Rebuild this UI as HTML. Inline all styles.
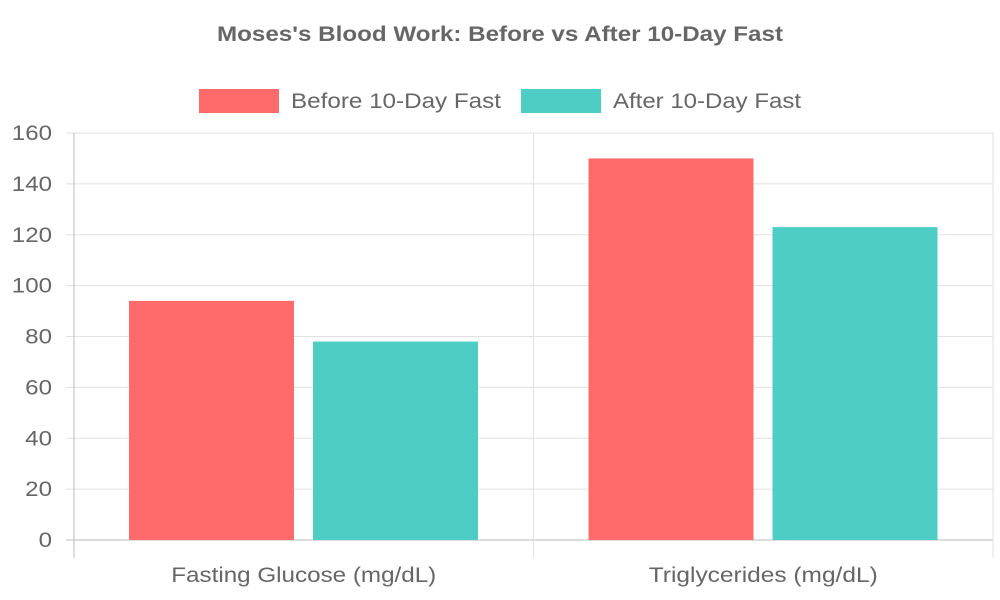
<!DOCTYPE html>
<html><head><meta charset="utf-8"><style>
body{margin:0;background:#fff;}
svg{display:block;font-family:"Liberation Sans",sans-serif;}
</style></head><body>
<svg id="chart" width="1000" height="600">
<text x="500" y="41" text-anchor="middle" font-size="21" font-weight="bold" fill="#666" textLength="566" lengthAdjust="spacingAndGlyphs">Moses's Blood Work: Before vs After 10-Day Fast</text>
<g>
<g><rect x="199" y="89" width="80" height="24" fill="#ff6b6b"/><text x="291" y="108" font-size="21" fill="#666" textLength="210" lengthAdjust="spacingAndGlyphs">Before 10-Day Fast</text></g>
<g><rect x="521" y="89" width="80" height="24" fill="#4ecdc4"/><text x="613" y="108" font-size="21" fill="#666" textLength="188" lengthAdjust="spacingAndGlyphs">After 10-Day Fast</text></g>
</g>
<g id="grid"></g><g id="bars"></g><g id="labels"></g>
</svg>
<script>
const categories=["Fasting Glucose (mg/dL)","Triglycerides (mg/dL)"];
const beforeValues=[94,150];
const afterValues=[78,123];
const yTicks=[0,20,40,60,80,100,120,140,160];
const NS="http://www.w3.org/2000/svg";
const L=74,R=993,T=133,B=540;
const y=v=>B-(v/160)*(B-T);
const cw=(R-L)/categories.length;
function mk(tag,attrs,parent,text){const e=document.createElementNS(NS,tag);for(const k in attrs)e.setAttribute(k,attrs[k]);if(text!==undefined)e.textContent=text;document.getElementById(parent).appendChild(e);return e;}
yTicks.forEach(t=>{
 const l=mk('line',{x1:66,x2:R,y1:y(t),y2:y(t),stroke:t===0?'#bbb':'#e1e1e1','stroke-width':1},'grid');
 
 
 const s=String(t);
 const tx=mk('text',{x:52,y:y(t)+7,'text-anchor':'end','font-size':21,fill:'#666',textLength:s.length*13.4,lengthAdjust:'spacingAndGlyphs'},'labels',s);
 
 
});
for(let i=0;i<=categories.length;i++){
 const l=mk('line',{x1:L+i*cw,x2:L+i*cw,y1:T,y2:558,stroke:i===0?'#bbb':'#e1e1e1','stroke-width':1},'grid');
 
 
}
const xLabelWidths=[265,229];
categories.forEach((c,i)=>{
 const x0=L+i*cw;
 const bw=165;
 const b1=mk('rect',{x:x0+55,y:y(beforeValues[i]),width:bw,height:B-y(beforeValues[i]),fill:'#ff6b6b'},'bars');
 
 
 const b2=mk('rect',{x:x0+239,y:y(afterValues[i]),width:bw,height:B-y(afterValues[i]),fill:'#4ecdc4'},'bars');
 
 
 const t=mk('text',{x:x0+cw/2,y:582,'text-anchor':'middle','font-size':21,fill:'#666',textLength:xLabelWidths[i],lengthAdjust:'spacingAndGlyphs'},'labels',c);
 
 
});
</script>
</body></html>
